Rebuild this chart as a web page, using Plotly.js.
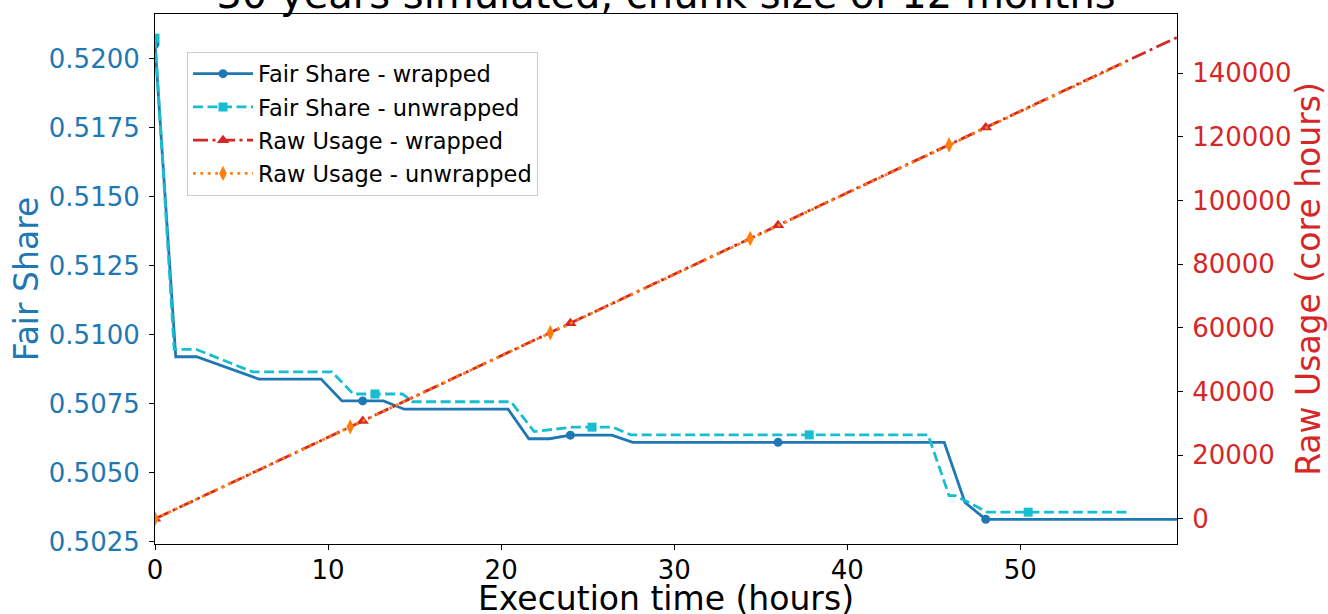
<!DOCTYPE html>
<html>
<head>
<meta charset="utf-8">
<script src="https://cdn.plot.ly/plotly-3.0.1.min.js"></script>
<style>html,body{margin:0;padding:0;background:#fff;}#chart{width:1328px;height:614px;}</style>
</head>
<body>
<div id="chart"></div>
<script>
// ---- data ----
const chartTitle = "30 years simulated, chunk size of 12 months";
const xTitle = "Execution time (hours)";
const yTitleLeft = "Fair Share";
const yTitleRight = "Raw Usage (core hours)";
const seriesNames = ["Fair Share - wrapped", "Fair Share - unwrapped", "Raw Usage - wrapped", "Raw Usage - unwrapped"];

const hoursFSWrapped = [0, 1.2, 2.4, 6.0, 9.6, 10.8, 12.0, 13.2, 14.4, 20.4, 21.6, 22.8, 24.0, 26.4, 27.6, 36.0, 45.6, 46.8, 48.0, 59.05];
const fairShareWrapped = [0.52053, 0.50920, 0.50920, 0.50839, 0.50839, 0.50760, 0.50760, 0.50760, 0.50730, 0.50730, 0.50623, 0.50623, 0.50636, 0.50636, 0.50610, 0.50610, 0.50610, 0.50392, 0.50331, 0.50331];
const markIdxFSWrapped = [0, 6, 12, 15, 18];

const hoursFSUnwrapped = [0, 1.11, 2.37, 5.64, 10.23, 11.46, 12.71, 14.30, 14.88, 20.57, 21.91, 24.12, 25.25, 26.44, 27.50, 37.80, 44.67, 45.88, 46.23, 48.10, 50.45, 56.19];
const fairShareUnwrapped = [0.52074, 0.50947, 0.50947, 0.50865, 0.50865, 0.50785, 0.50785, 0.50785, 0.50757, 0.50757, 0.50649, 0.50665, 0.50665, 0.50665, 0.50637, 0.50637, 0.50637, 0.50417, 0.50417, 0.50357, 0.50357, 0.50357];
const markIdxFSUnwrapped = [0, 6, 12, 15, 20];

const hoursRUWrapped = [0, 12, 24, 36, 48, 59.05];
const rawUsageWrapped = [0, 30750, 61500, 92250, 123000, 151300];
const markIdxRUWrapped = [0, 1, 2, 3, 4];

const hoursRUUnwrapped = [0, 11.28, 22.84, 34.39, 45.88, 56.15];
const rawUsageUnwrapped = [0, 28900, 58500, 88100, 117500, 143700];
const markIdxRUUnwrapped = [0, 1, 2, 3, 4];

const xTicks = [0, 10, 20, 30, 40, 50];
const yLeftTicks = [0.5025, 0.5050, 0.5075, 0.5100, 0.5125, 0.5150, 0.5175, 0.5200];
const yRightTicks = [0, 20000, 40000, 60000, 80000, 100000, 120000, 140000];

// ---- styles ----
const FONT = "DejaVu Sans";
const LW = 2.8;
const styles = [
  {color: "#1f77b4", dash: "solid", symbol: "circle", size: 9, axis: "y"},
  {color: "#17becf", dash: "10px,4.5px", symbol: "square", size: 9, axis: "y"},
  {color: "#d62728", dash: "15px,4.5px,3px,4.5px", symbol: "triangle-up", size: 11, axis: "y2"},
  {color: "#ff7f0e", dash: "2.8px,4.6px", symbol: "diamond-tall", size: 11, axis: "y2"}
];
const series = [
  [hoursFSWrapped, fairShareWrapped, markIdxFSWrapped],
  [hoursFSUnwrapped, fairShareUnwrapped, markIdxFSUnwrapped],
  [hoursRUWrapped, rawUsageWrapped, markIdxRUWrapped],
  [hoursRUUnwrapped, rawUsageUnwrapped, markIdxRUUnwrapped]
];

const traces = [];
series.forEach((s, i) => {
  const st = styles[i];
  traces.push({
    x: s[0], y: s[1], yaxis: st.axis, type: "scatter", mode: "lines",
    line: {color: st.color, width: LW, dash: st.dash},
    showlegend: false, hoverinfo: "skip"
  });
  traces.push({
    x: s[2].map(k => s[0][k]), y: s[2].map(k => s[1][k]), yaxis: st.axis,
    type: "scatter", mode: "markers",
    marker: {color: st.color, size: st.size, symbol: st.symbol, line: {width: 0}},
    showlegend: false, hoverinfo: "skip"
  });
});
// legend entries
series.forEach((s, i) => {
  const st = styles[i];
  traces.push({
    x: [null], y: [null], yaxis: st.axis, type: "scatter", mode: "lines+markers",
    name: seriesNames[i], legendgroup: "g" + i,
    line: {color: st.color, width: LW, dash: st.dash},
    marker: {color: st.color, size: st.size, symbol: st.symbol, line: {width: 0}}
  });
});

const axisCommon = {
  showline: true, linecolor: "#000", linewidth: 1, mirror: false,
  ticks: "outside", ticklen: 5, tickwidth: 1, tickcolor: "#000",
  showgrid: false, zeroline: false
};

const layout = {
  width: 1328, height: 614,
  margin: {l: 155, r: 151, t: 14, b: 70, pad: 0},
  paper_bgcolor: "#fff", plot_bgcolor: "#fff",
  font: {family: FONT, color: "#000"},
  title: {
    text: chartTitle, font: {family: FONT, size: 40, color: "#000"},
    x: 0.5, xref: "paper", xanchor: "center",
    y: 1 - 7.5 / 614, yref: "container", yanchor: "bottom"
  },
  xaxis: Object.assign({}, axisCommon, {
    range: [0, 59.05], tickvals: xTicks, ticktext: xTicks.map(String),
    mirror: true, ticklabelstandoff: -2,
    tickfont: {family: FONT, size: 26, color: "#000"}
  }),
  yaxis: Object.assign({}, axisCommon, {
    range: [0.502417, 0.521615], tickvals: yLeftTicks, ticktext: yLeftTicks.map(v => v.toFixed(4)),
    ticklabelstandoff: 4,
    tickfont: {family: FONT, size: 26, color: "#1f77b4"},
    title: {text: yTitleLeft, font: {family: FONT, size: 33, color: "#1f77b4"}, standoff: 0}
  }),
  yaxis2: Object.assign({}, axisCommon, {
    overlaying: "y", side: "right",
    range: [-7912, 158650], tickvals: yRightTicks, ticktext: yRightTicks.map(String),
    ticklabelstandoff: 4,
    tickfont: {family: FONT, size: 26, color: "#d62728"},
    title: {text: yTitleRight, font: {family: FONT, size: 33, color: "#d62728"}, standoff: 0}
  }),
  annotations: [{
    text: xTitle, xref: "paper", yref: "paper", x: 0.5, y: 0,
    xanchor: "center", yanchor: "top", yshift: -33, showarrow: false,
    font: {family: FONT, size: 33, color: "#000"}
  }],
  legend: {
    x: (187 - 155) / 1022, y: 1 - (51.5 - 14) / 530, xanchor: "left", yanchor: "top",
    bgcolor: "rgba(255,255,255,0.8)", bordercolor: "#cccccc", borderwidth: 1,
    font: {family: FONT, size: 22.5, color: "#000"},
    itemwidth: 60, tracegroupgap: 1, traceorder: "grouped"
  },
  showlegend: true
};

Plotly.newPlot("chart", traces, layout, {displayModeBar: false, staticPlot: true});
</script>
</body>
</html>
